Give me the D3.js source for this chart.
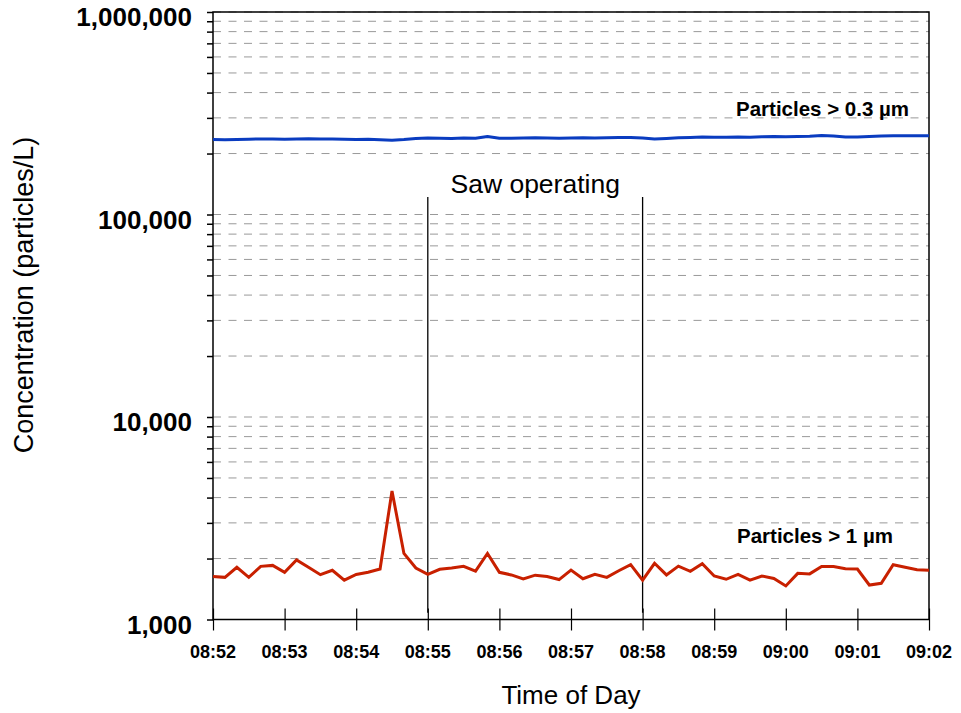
<!DOCTYPE html>
<html>
<head>
<meta charset="utf-8">
<script src="https://cdn.jsdelivr.net/npm/d3@7"></script>
<style>
  body { margin: 0; background: #fff; }
  text { font-family: "Liberation Sans", Arial, sans-serif; }
</style>
</head>
<body>
<div id="vis"></div>
<script>
// readings every 10 s, 08:52:00 .. 09:02:00
const startTime = new Date(2000, 0, 1, 8, 52, 0);
const endTime = new Date(2000, 0, 1, 9, 2, 0);
const stepSeconds = 10;

const fine = [ // particles > 0.3 um
  234600, 234100, 234600, 235400, 236000, 236000, 235400, 236000, 236500, 236000,
  236000, 235400, 234600, 235400, 233800, 232700, 234600, 237300, 238600, 238100,
  237300, 238600, 237800, 242700, 237800, 238100, 238600, 239200, 238600, 237800,
  238600, 239200, 238600, 239400, 240000, 240000, 238600, 236000, 237300, 239200,
  240000, 241300, 240500, 240500, 241300, 240800, 241900, 242700, 242200, 242700,
  243500, 245500, 244100, 241300, 241300, 242700, 244100, 244600, 244600, 244900,
  244600
];
const coarse = [ // particles > 1 um
  1630, 1615, 1810, 1615, 1830, 1850, 1710, 1970, 1810, 1665,
  1750, 1565, 1670, 1710, 1775, 4310, 2120, 1795, 1670, 1770,
  1795, 1830, 1735, 2120, 1710, 1660, 1585, 1655, 1630, 1575,
  1755, 1590, 1670, 1615, 1740, 1865, 1565, 1895, 1660, 1835,
  1730, 1885, 1640, 1580, 1670, 1565, 1640, 1595, 1465, 1690,
  1680, 1825, 1825, 1780, 1775, 1480, 1510, 1865, 1810, 1760,
  1750
];
const sawMarks = [new Date(2000, 0, 1, 8, 55), new Date(2000, 0, 1, 8, 58)];
const sawRange = [1080, 122000];
const yLabels = { 1000: "1,000", 10000: "10,000", 100000: "100,000", 1000000: "1,000,000" };

const width = 961, height = 713;
const margin = { top: 12, right: 32, bottom: 93.5, left: 213 };

const svg = d3.select("#vis").append("svg")
  .attr("width", width)
  .attr("height", height);

const x = d3.scaleTime()
  .domain([startTime, endTime])
  .range([margin.left, width - margin.right]);

const y = d3.scaleLog()
  .domain([1000, 1000000])
  .range([height - margin.bottom, margin.top]);

const timeAt = i => new Date(startTime.getTime() + i * stepSeconds * 1000);

////////// grid //////////

svg.append("g")
  .selectAll("line")
  .data(y.ticks())
  .enter()
  .append("line")
  .attr("x1", margin.left)
  .attr("x2", width - margin.right)
  .attr("y1", d => y(d))
  .attr("y2", d => y(d))
  .attr("stroke", "#999")
  .attr("stroke-width", 1)
  .attr("stroke-dasharray", "8,7.5");

////////// axes //////////

const yAxis = svg.append("g")
  .attr("transform", "translate(" + margin.left + ",0)")
  .call(d3.axisLeft(y).tickValues(y.ticks()).tickSize(6).tickFormat(""));
yAxis.select(".domain").remove();
yAxis.selectAll("line").attr("stroke", "#000").attr("stroke-width", 1.5);

svg.append("g")
  .selectAll("text")
  .data(Object.keys(yLabels).map(Number))
  .enter()
  .append("text")
  .attr("x", margin.left - 21)
  .attr("y", d => y(d) + 14)
  .attr("text-anchor", "end")
  .attr("font-size", 26)
  .attr("font-weight", "bold")
  .text(d => yLabels[d]);

const xAxis = svg.append("g")
  .attr("transform", "translate(0," + (height - margin.bottom) + ")")
  .call(d3.axisBottom(x).ticks(d3.timeMinute.every(1)).tickSize(11).tickFormat(""));
xAxis.select(".domain").remove();
xAxis.selectAll(".tick line")
  .attr("y1", -11)
  .attr("stroke", "#000")
  .attr("stroke-width", 1.2);

svg.append("g")
  .selectAll("text")
  .data(x.ticks(d3.timeMinute.every(1)))
  .enter()
  .append("text")
  .attr("x", d => x(d))
  .attr("y", 658)
  .attr("text-anchor", "middle")
  .attr("font-size", 18)
  .attr("font-weight", "bold")
  .text(d3.timeFormat("%H:%M"));

// plot frame
svg.append("rect")
  .attr("x", margin.left)
  .attr("y", margin.top)
  .attr("width", width - margin.left - margin.right)
  .attr("height", height - margin.top - margin.bottom)
  .attr("fill", "none")
  .attr("stroke", "#000")
  .attr("stroke-width", 1.5);

////////// saw period //////////

svg.append("g")
  .selectAll("line")
  .data(sawMarks)
  .enter()
  .append("line")
  .attr("x1", d => x(d))
  .attr("x2", d => x(d))
  .attr("y1", y(sawRange[0]))
  .attr("y2", y(sawRange[1]))
  .attr("stroke", "#000")
  .attr("stroke-width", 1.3);

svg.append("text")
  .attr("x", (x(sawMarks[0]) + x(sawMarks[1])) / 2)
  .attr("y", 193)
  .attr("text-anchor", "middle")
  .attr("font-size", 26.5)
  .text("Saw operating");

////////// series //////////

const line = d3.line()
  .x((d, i) => x(timeAt(i)))
  .y(d => y(d));

svg.append("path")
  .datum(fine)
  .attr("d", line)
  .attr("fill", "none")
  .attr("stroke", "#0a3cc0")
  .attr("stroke-width", 3)
  .attr("stroke-linejoin", "round");

svg.append("path")
  .datum(coarse)
  .attr("d", line)
  .attr("fill", "none")
  .attr("stroke", "#c82000")
  .attr("stroke-width", 3)
  .attr("stroke-linejoin", "miter");

svg.append("text")
  .attr("x", 736)
  .attr("y", 116)
  .attr("font-size", 20.5)
  .attr("font-weight", "bold")
  .text("Particles > 0.3 µm");

svg.append("text")
  .attr("x", 737)
  .attr("y", 543)
  .attr("font-size", 20.5)
  .attr("font-weight", "bold")
  .text("Particles > 1 µm");

////////// axis titles //////////

svg.append("text")
  .attr("transform", "translate(33,295) rotate(-90)")
  .attr("text-anchor", "middle")
  .attr("font-size", 27)
  .text("Concentration (particles/L)");

svg.append("text")
  .attr("x", (margin.left + width - margin.right) / 2)
  .attr("y", 704)
  .attr("text-anchor", "middle")
  .attr("font-size", 26)
  .text("Time of Day");
</script>
</body>
</html>
